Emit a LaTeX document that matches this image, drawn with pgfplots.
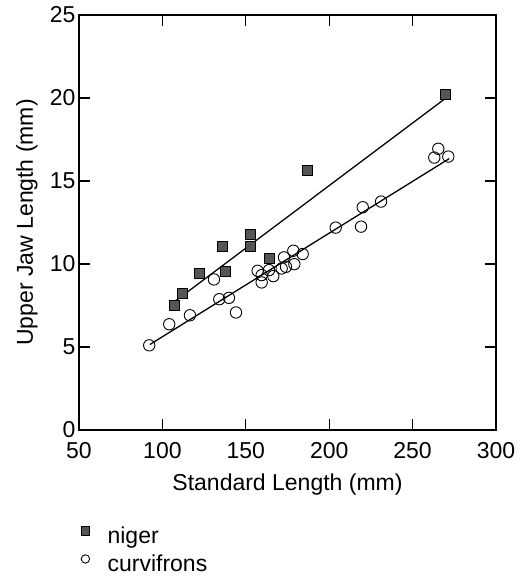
\documentclass[border=0pt]{standalone}
\usepackage{fontspec}
\setmainfont{Liberation Sans}
\usepackage{pgfplots}
\pgfplotsset{compat=1.18}
\definecolor{markgray}{RGB}{85,85,85}

\newcommand{\bigfont}{\fontsize{23}{27}\selectfont}

\begin{document}
\begin{tikzpicture}
\begin{axis}[
    at={(79pt,150pt)}, anchor=south west,
    width=417pt, height=415pt, scale only axis,
    xmin=50, xmax=300, ymin=0, ymax=25,
    xtick={50,100,...,300}, ytick={0,5,...,25},
    tick align=inside, major tick length=11pt,
    axis line style={line width=1.3pt},
    tick style={line width=1.2pt, black},
    tick label style={font=\bigfont},
    /pgf/number format/assume math mode=true,
    xticklabel style={yshift=-9pt},
    xlabel={Standard Length (mm)},
    ylabel={Upper Jaw Length (mm)},
    xlabel style={at={(axis description cs:0.5,-0.106)}, anchor=north, inner sep=0pt, font=\bigfont},
    ylabel style={at={(axis description cs:-0.125,0.5)}, anchor=center, inner sep=0pt, font=\bigfont},
    legend style={at={(axis description cs:0,-0.232)}, anchor=north west,
        draw=none, fill=none, inner sep=0pt, font=\bigfont,
        nodes={inner sep=1pt, text height=16pt, text depth=5pt},
        row sep=5pt},
    legend cell align=left,
    legend image code/.code={
        \draw[#1, mark size=4.2pt] plot coordinates {(0pt,7pt)};
        \path (-6pt,0pt) (21pt,0pt);
    },
]
% regression lines
\addplot[black, line width=1.3pt, forget plot] coordinates {(107.5,7.75) (270,20.0)};
\addplot[black, line width=1.3pt, forget plot] coordinates {(92.5,5.15) (272,16.35)};

% niger
\addplot[only marks, mark=square*, mark size=5pt,
    mark options={fill=markgray, draw=black, line width=0.6pt}] table {
x y
107.0 7.52
112.2 8.22
122.1 9.43
136.2 11.08
137.5 9.57
152.9 11.78
152.9 11.05
163.9 10.34
187.1 15.63
269.8 20.20
};
\addlegendentry{niger}

% curvifrons
\addplot[only marks, mark=o, mark size=5.7pt,
    mark options={draw=black, line width=0.9pt}] table {
x y
92.1 5.10
104.1 6.37
116.5 6.91
130.9 9.07
134.1 7.88
139.9 7.96
144.1 7.08
157.1 9.59
159.5 9.33
159.5 8.89
163.9 9.63
166.5 9.27
171.5 9.73
172.9 10.40
174.1 9.83
178.5 10.80
179.1 9.99
184.1 10.60
203.9 12.19
219.1 12.25
220.1 13.42
231.1 13.76
265.4 16.94
263.0 16.41
271.4 16.47
};
\addlegendentry{curvifrons}
\end{axis}
\pgfresetboundingbox
\path (0pt,0pt) rectangle (528pt,580pt);
\end{tikzpicture}
\end{document}
